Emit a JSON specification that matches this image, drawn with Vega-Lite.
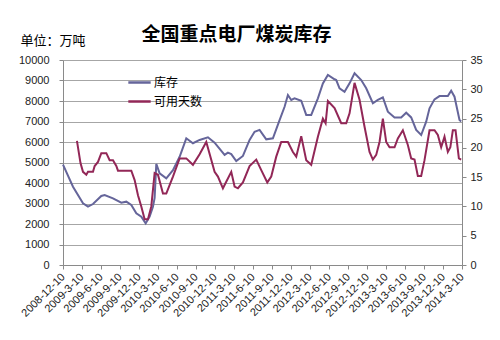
{
  "$schema": "https://vega.github.io/schema/vega-lite/v6.json",
  "width": 399,
  "height": 205,
  "autosize": "none",
  "padding": {"left": 63, "top": 60, "right": 38, "bottom": 75},
  "background": "white",
  "title": {"text": "全国重点电厂煤炭库存", "font": "Noto Sans CJK SC", "fontSize": 19, "fontWeight": "bold", "color": "#000000", "anchor": "middle", "dx": -26, "dy": 25, "offset": 14},
  "config": {
    "view": {"stroke": null},
    "axis": {"domainColor": "#8a8a8a", "tickColor": "#8a8a8a", "tickSize": 4, "labelFont": "Liberation Sans", "labelFontSize": 11, "labelColor": "#222222"}
  },
  "data": {"values": [
    {"d": "2008-12-10", "s": "库存", "v": 4900},
    {"d": "2009-01-27", "s": "库存", "v": 3820},
    {"d": "2009-03-16", "s": "库存", "v": 3010},
    {"d": "2009-04-09", "s": "库存", "v": 2845},
    {"d": "2009-05-03", "s": "库存", "v": 2975},
    {"d": "2009-06-12", "s": "库存", "v": 3366},
    {"d": "2009-06-28", "s": "库存", "v": 3415},
    {"d": "2009-08-07", "s": "库存", "v": 3250},
    {"d": "2009-09-16", "s": "库存", "v": 3040},
    {"d": "2009-10-10", "s": "库存", "v": 3090},
    {"d": "2009-11-03", "s": "库存", "v": 2930},
    {"d": "2009-11-27", "s": "库存", "v": 2520},
    {"d": "2009-12-21", "s": "库存", "v": 2360},
    {"d": "2010-01-11", "s": "库存", "v": 2030},
    {"d": "2010-01-30", "s": "库存", "v": 2360},
    {"d": "2010-02-15", "s": "库存", "v": 2840},
    {"d": "2010-02-23", "s": "库存", "v": 3270},
    {"d": "2010-03-03", "s": "库存", "v": 4930},
    {"d": "2010-03-19", "s": "库存", "v": 4470},
    {"d": "2010-04-20", "s": "库存", "v": 4230},
    {"d": "2010-05-22", "s": "库存", "v": 4630},
    {"d": "2010-06-23", "s": "库存", "v": 5280},
    {"d": "2010-07-25", "s": "库存", "v": 6180},
    {"d": "2010-08-26", "s": "库存", "v": 5940},
    {"d": "2010-09-27", "s": "库存", "v": 6100},
    {"d": "2010-11-06", "s": "库存", "v": 6230},
    {"d": "2010-12-08", "s": "库存", "v": 5970},
    {"d": "2011-01-25", "s": "库存", "v": 5370},
    {"d": "2011-02-10", "s": "库存", "v": 5480},
    {"d": "2011-02-26", "s": "库存", "v": 5410},
    {"d": "2011-03-22", "s": "库存", "v": 5070},
    {"d": "2011-04-23", "s": "库存", "v": 5320},
    {"d": "2011-05-25", "s": "库存", "v": 6100},
    {"d": "2011-06-18", "s": "库存", "v": 6500},
    {"d": "2011-07-12", "s": "库存", "v": 6590},
    {"d": "2011-08-13", "s": "库存", "v": 6130},
    {"d": "2011-09-14", "s": "库存", "v": 6180},
    {"d": "2011-10-16", "s": "库存", "v": 7070},
    {"d": "2011-11-09", "s": "库存", "v": 7720},
    {"d": "2011-11-25", "s": "库存", "v": 8290},
    {"d": "2011-12-11", "s": "库存", "v": 8050},
    {"d": "2011-12-27", "s": "库存", "v": 8130},
    {"d": "2012-01-28", "s": "库存", "v": 8015},
    {"d": "2012-02-21", "s": "库存", "v": 7320},
    {"d": "2012-03-16", "s": "库存", "v": 7320},
    {"d": "2012-04-17", "s": "库存", "v": 8130},
    {"d": "2012-05-11", "s": "库存", "v": 8860},
    {"d": "2012-06-04", "s": "库存", "v": 9270},
    {"d": "2012-07-06", "s": "库存", "v": 9060},
    {"d": "2012-07-14", "s": "库存", "v": 9020},
    {"d": "2012-07-30", "s": "库存", "v": 8620},
    {"d": "2012-08-23", "s": "库存", "v": 8450},
    {"d": "2012-09-16", "s": "库存", "v": 8860},
    {"d": "2012-10-10", "s": "库存", "v": 9350},
    {"d": "2012-11-11", "s": "库存", "v": 9020},
    {"d": "2012-12-05", "s": "库存", "v": 8620},
    {"d": "2013-01-06", "s": "库存", "v": 7890},
    {"d": "2013-01-30", "s": "库存", "v": 8050},
    {"d": "2013-02-23", "s": "库存", "v": 8180},
    {"d": "2013-03-19", "s": "库存", "v": 7480},
    {"d": "2013-04-20", "s": "库存", "v": 7200},
    {"d": "2013-05-22", "s": "库存", "v": 7200},
    {"d": "2013-06-15", "s": "库存", "v": 7430},
    {"d": "2013-07-09", "s": "库存", "v": 7200},
    {"d": "2013-08-02", "s": "库存", "v": 6590},
    {"d": "2013-08-26", "s": "库存", "v": 6340},
    {"d": "2013-09-19", "s": "库存", "v": 6990},
    {"d": "2013-10-05", "s": "库存", "v": 7640},
    {"d": "2013-10-29", "s": "库存", "v": 8080},
    {"d": "2013-11-22", "s": "库存", "v": 8240},
    {"d": "2014-01-01", "s": "库存", "v": 8240},
    {"d": "2014-01-17", "s": "库存", "v": 8500},
    {"d": "2014-02-02", "s": "库存", "v": 8210},
    {"d": "2014-02-26", "s": "库存", "v": 7070},
    {"d": "2014-03-06", "s": "库存", "v": 7000},
    {"d": "2009-02-15", "s": "可用天数", "v": 21.2},
    {"d": "2009-03-04", "s": "可用天数", "v": 17.4},
    {"d": "2009-03-16", "s": "可用天数", "v": 15.9},
    {"d": "2009-04-01", "s": "可用天数", "v": 15.4},
    {"d": "2009-04-09", "s": "可用天数", "v": 15.9},
    {"d": "2009-05-03", "s": "可用天数", "v": 15.9},
    {"d": "2009-05-11", "s": "可用天数", "v": 16.9},
    {"d": "2009-05-27", "s": "可用天数", "v": 17.6},
    {"d": "2009-06-12", "s": "可用天数", "v": 19.1},
    {"d": "2009-07-06", "s": "可用天数", "v": 19.1},
    {"d": "2009-07-22", "s": "可用天数", "v": 17.9},
    {"d": "2009-08-07", "s": "可用天数", "v": 17.9},
    {"d": "2009-08-23", "s": "可用天数", "v": 16.9},
    {"d": "2009-08-31", "s": "可用天数", "v": 16.1},
    {"d": "2009-11-03", "s": "可用天数", "v": 16.1},
    {"d": "2009-11-19", "s": "可用天数", "v": 14.5},
    {"d": "2009-12-05", "s": "可用天数", "v": 11.9},
    {"d": "2009-12-21", "s": "可用天数", "v": 10.0},
    {"d": "2010-01-06", "s": "可用天数", "v": 7.8},
    {"d": "2010-01-22", "s": "可用天数", "v": 7.8},
    {"d": "2010-02-07", "s": "可用天数", "v": 10.0},
    {"d": "2010-02-23", "s": "可用天数", "v": 15.7},
    {"d": "2010-03-11", "s": "可用天数", "v": 15.4},
    {"d": "2010-04-04", "s": "可用天数", "v": 12.2},
    {"d": "2010-04-20", "s": "可用天数", "v": 12.2},
    {"d": "2010-05-22", "s": "可用天数", "v": 15.1},
    {"d": "2010-06-23", "s": "可用天数", "v": 18.2},
    {"d": "2010-07-25", "s": "可用天数", "v": 18.2},
    {"d": "2010-08-26", "s": "可用天数", "v": 17.1},
    {"d": "2010-09-27", "s": "可用天数", "v": 18.9},
    {"d": "2010-10-29", "s": "可用天数", "v": 21.0},
    {"d": "2010-12-08", "s": "可用天数", "v": 15.9},
    {"d": "2010-12-24", "s": "可用天数", "v": 15.1},
    {"d": "2011-01-17", "s": "可用天数", "v": 13.1},
    {"d": "2011-02-26", "s": "可用天数", "v": 15.9},
    {"d": "2011-03-14", "s": "可用天数", "v": 13.4},
    {"d": "2011-03-30", "s": "可用天数", "v": 13.1},
    {"d": "2011-04-23", "s": "可用天数", "v": 14.1},
    {"d": "2011-05-25", "s": "可用天数", "v": 16.9},
    {"d": "2011-06-26", "s": "可用天数", "v": 18.0},
    {"d": "2011-07-20", "s": "可用天数", "v": 16.2},
    {"d": "2011-08-18", "s": "可用天数", "v": 14.1},
    {"d": "2011-09-06", "s": "可用天数", "v": 15.1},
    {"d": "2011-09-30", "s": "可用天数", "v": 18.5},
    {"d": "2011-10-24", "s": "可用天数", "v": 21.0},
    {"d": "2011-11-25", "s": "可用天数", "v": 21.0},
    {"d": "2011-12-19", "s": "可用天数", "v": 19.3},
    {"d": "2012-01-04", "s": "可用天数", "v": 18.5},
    {"d": "2012-01-28", "s": "可用天数", "v": 22.0},
    {"d": "2012-02-21", "s": "可用天数", "v": 17.9},
    {"d": "2012-03-16", "s": "可用天数", "v": 17.1},
    {"d": "2012-04-17", "s": "可用天数", "v": 21.9},
    {"d": "2012-05-11", "s": "可用天数", "v": 25.0},
    {"d": "2012-05-24", "s": "可用天数", "v": 24.2},
    {"d": "2012-06-04", "s": "可用天数", "v": 28.0},
    {"d": "2012-07-06", "s": "可用天数", "v": 26.8},
    {"d": "2012-08-07", "s": "可用天数", "v": 24.2},
    {"d": "2012-08-31", "s": "可用天数", "v": 24.2},
    {"d": "2012-09-16", "s": "可用天数", "v": 25.9},
    {"d": "2012-10-10", "s": "可用天数", "v": 31.1},
    {"d": "2012-11-03", "s": "可用天数", "v": 28.2},
    {"d": "2012-11-27", "s": "可用天数", "v": 23.6},
    {"d": "2012-12-21", "s": "可用天数", "v": 19.3},
    {"d": "2013-01-06", "s": "可用天数", "v": 18.0},
    {"d": "2013-01-22", "s": "可用天数", "v": 18.8},
    {"d": "2013-02-07", "s": "可用天数", "v": 21.0},
    {"d": "2013-02-23", "s": "可用天数", "v": 25.0},
    {"d": "2013-03-11", "s": "可用天数", "v": 21.0},
    {"d": "2013-03-27", "s": "可用天数", "v": 20.1},
    {"d": "2013-04-20", "s": "可用天数", "v": 20.1},
    {"d": "2013-05-06", "s": "可用天数", "v": 21.6},
    {"d": "2013-05-30", "s": "可用天数", "v": 23.0},
    {"d": "2013-06-23", "s": "可用天数", "v": 20.5},
    {"d": "2013-07-09", "s": "可用天数", "v": 18.2},
    {"d": "2013-07-25", "s": "可用天数", "v": 18.0},
    {"d": "2013-08-10", "s": "可用天数", "v": 15.2},
    {"d": "2013-08-26", "s": "可用天数", "v": 15.2},
    {"d": "2013-09-11", "s": "可用天数", "v": 17.9},
    {"d": "2013-10-05", "s": "可用天数", "v": 23.0},
    {"d": "2013-10-29", "s": "可用天数", "v": 23.0},
    {"d": "2013-11-14", "s": "可用天数", "v": 22.2},
    {"d": "2013-11-30", "s": "可用天数", "v": 20.1},
    {"d": "2013-12-16", "s": "可用天数", "v": 21.9},
    {"d": "2014-01-01", "s": "可用天数", "v": 19.3},
    {"d": "2014-01-13", "s": "可用天数", "v": 20.1},
    {"d": "2014-01-25", "s": "可用天数", "v": 23.0},
    {"d": "2014-02-07", "s": "可用天数", "v": 23.0},
    {"d": "2014-02-23", "s": "可用天数", "v": 18.2},
    {"d": "2014-03-06", "s": "可用天数", "v": 18.0}
  ]},
  "encoding": {
    "x": {
      "field": "d", "type": "temporal",
      "scale": {"type": "utc", "domain": [{"year": 2008, "month": 12, "date": 10, "utc": true}, {"year": 2014, "month": 3, "date": 10, "utc": true}]},
      "axis": {
        "title": null, "grid": false, "format": "%Y-%-m-%-d", "labelAngle": -45, "labelAlign": "right", "labelBaseline": "middle", "labelFontSize": 11, "labelPadding": 6, "labelOverlap": false, "labelFlush": false,
        "values": [
          {"year": 2008, "month": 12, "date": 10, "utc": true},
          {"year": 2009, "month": 3, "date": 10, "utc": true},
          {"year": 2009, "month": 6, "date": 10, "utc": true},
          {"year": 2009, "month": 9, "date": 10, "utc": true},
          {"year": 2009, "month": 12, "date": 10, "utc": true},
          {"year": 2010, "month": 3, "date": 10, "utc": true},
          {"year": 2010, "month": 6, "date": 10, "utc": true},
          {"year": 2010, "month": 9, "date": 10, "utc": true},
          {"year": 2010, "month": 12, "date": 10, "utc": true},
          {"year": 2011, "month": 3, "date": 10, "utc": true},
          {"year": 2011, "month": 6, "date": 10, "utc": true},
          {"year": 2011, "month": 9, "date": 10, "utc": true},
          {"year": 2011, "month": 12, "date": 10, "utc": true},
          {"year": 2012, "month": 3, "date": 10, "utc": true},
          {"year": 2012, "month": 6, "date": 10, "utc": true},
          {"year": 2012, "month": 9, "date": 10, "utc": true},
          {"year": 2012, "month": 12, "date": 10, "utc": true},
          {"year": 2013, "month": 3, "date": 10, "utc": true},
          {"year": 2013, "month": 6, "date": 10, "utc": true},
          {"year": 2013, "month": 9, "date": 10, "utc": true},
          {"year": 2013, "month": 12, "date": 10, "utc": true},
          {"year": 2014, "month": 3, "date": 10, "utc": true}
        ]
      }
    },
    "color": {
      "field": "s", "type": "nominal",
      "scale": {"domain": ["库存", "可用天数"], "range": ["#65659a", "#922757"]},
      "legend": {"orient": "none", "legendX": 64, "legendY": 10, "title": null, "symbolType": "stroke", "symbolStrokeWidth": 2.5, "symbolSize": 500, "labelFont": "Noto Sans CJK SC", "labelFontSize": 12, "labelColor": "#000000", "labelOffset": 2, "rowPadding": -8}
    }
  },
  "layer": [
    {
      "transform": [{"filter": "datum.s === '库存'"}],
      "mark": {"type": "line", "strokeWidth": 2},
      "encoding": {
        "y": {
          "field": "v", "type": "quantitative",
          "scale": {"domain": [0, 10000], "nice": false},
          "axis": {
            "values": [0, 1000, 2000, 3000, 4000, 5000, 6000, 7000, 8000, 9000, 10000], "format": "d",
            "grid": true, "gridColor": "#a6a6a6", "labelPadding": 10,
            "title": "单位：万吨", "titleAngle": 0, "titleFont": "Noto Sans CJK SC", "titleFontSize": 13, "titleFontWeight": "normal", "titleColor": "#000000",
            "titleX": -43, "titleY": -20, "titleAlign": "left", "titleBaseline": "middle"
          }
        }
      }
    },
    {
      "transform": [{"filter": "datum.s === '可用天数'"}],
      "mark": {"type": "line", "strokeWidth": 2},
      "encoding": {
        "y": {
          "field": "v", "type": "quantitative",
          "scale": {"domain": [0, 35], "nice": false},
          "axis": {"orient": "right", "values": [0, 5, 10, 15, 20, 25, 30, 35], "grid": false, "labelPadding": 4, "title": null}
        }
      }
    }
  ],
  "resolve": {"scale": {"y": "independent"}}
}
